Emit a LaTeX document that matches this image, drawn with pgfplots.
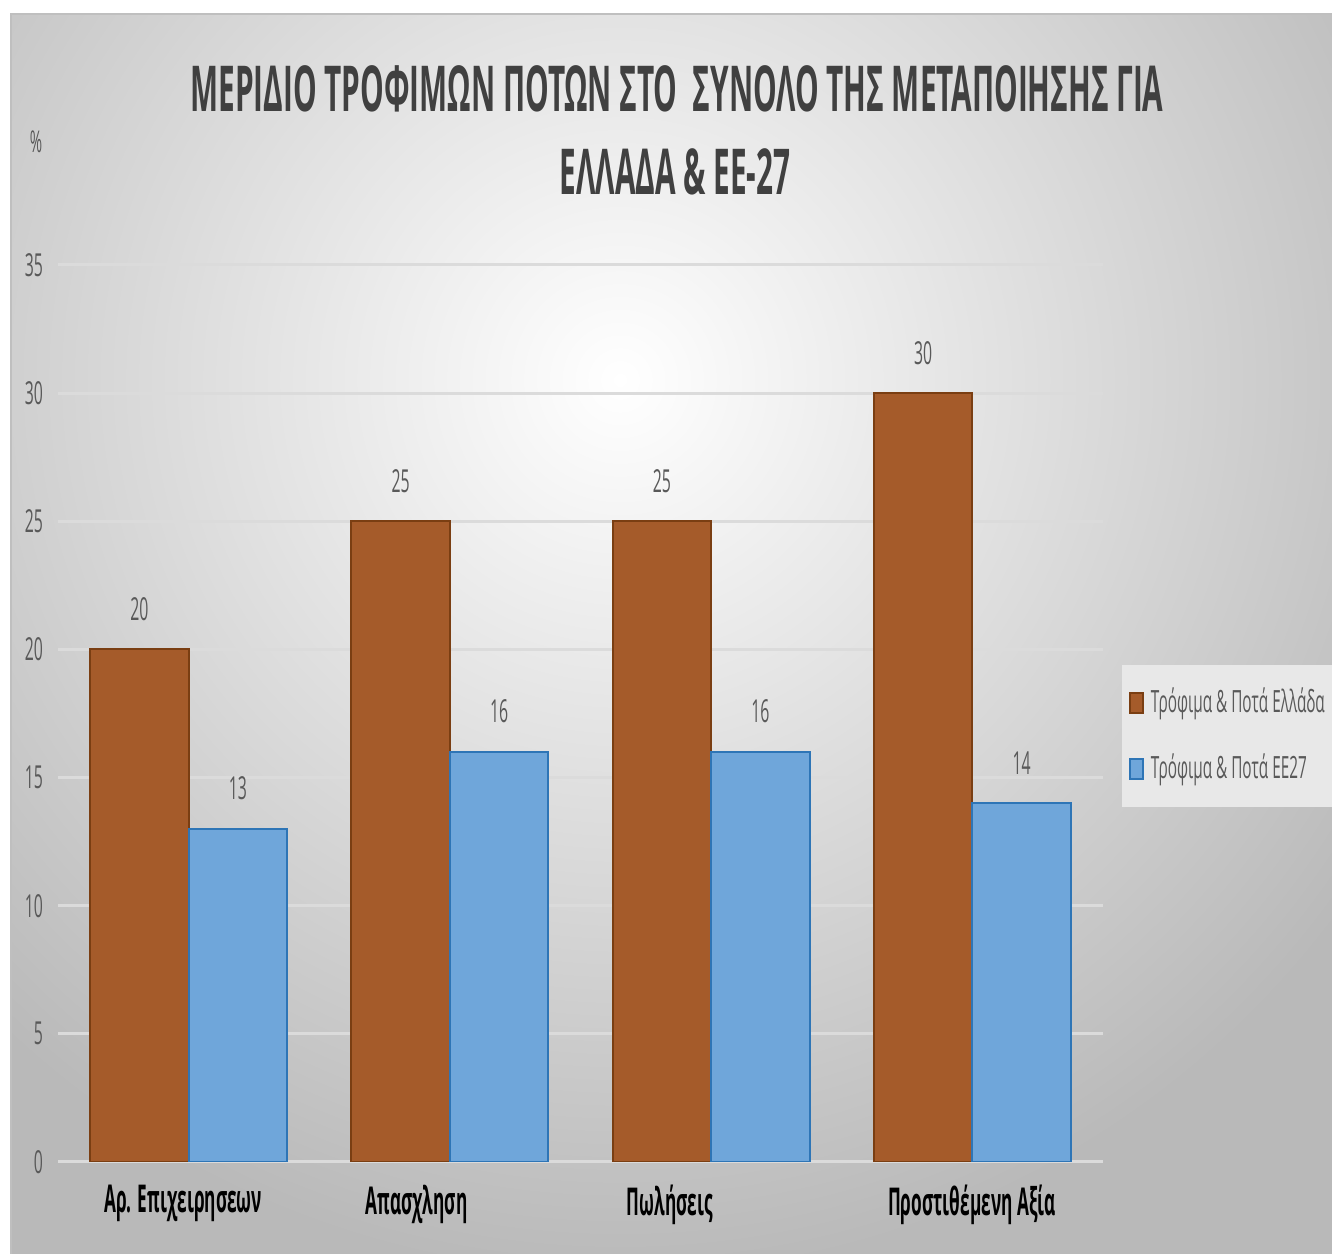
\documentclass[border=0pt]{standalone}
\usepackage{pgfplots}
\pgfplotsset{compat=1.18}
\usepackage{fontspec}
\setmainfont[FakeStretch=0.5]{Open Sans}
\newfontfamily\titlefont[FakeStretch=0.47]{Open Sans}
\newfontfamily\catfont[FakeStretch=0.45]{Open Sans}

\definecolor{grc}{HTML}{A55B2A}
\definecolor{grcdark}{HTML}{7A3E12}
\definecolor{eec}{HTML}{6FA6DA}
\definecolor{eecdark}{HTML}{2E75B6}
\definecolor{txt}{HTML}{595959}
\definecolor{ttl}{HTML}{404040}

\begin{document}
\begin{tikzpicture}
% background, drawn in pixel units of the reference
\begin{scope}[x=0.3pt,y=-0.3pt]
  \fill[white] (0,0) rectangle (1332,1254);
  \fill[black!25] (10,13) rectangle (1332,1254);
  \begin{scope}
    \clip (12,16) rectangle (1332,1254);
    \fill[gray!55] (12,16) rectangle (1332,1254);
    \shade[inner color=white, outer color=gray!55] (620,380) circle (900);
  \end{scope}
  \node[font=\titlefont\bfseries\fontsize{19}{22}\selectfont, text=ttl, anchor=base]
    at (677,112) {ΜΕΡΙΔΙΟ ΤΡΟΦΙΜΩΝ ΠΟΤΩΝ ΣΤΟ\ \ ΣΥΝΟΛΟ ΤΗΣ ΜΕΤΑΠΟΙΗΣΗΣ ΓΙΑ};
  \node[font=\titlefont\bfseries\fontsize{19}{22}\selectfont, text=ttl, anchor=base]
    at (675,195) {ΕΛΛΑΔΑ \& ΕΕ-27};
  \node[font=\fontsize{9}{11}\selectfont, text=txt, anchor=base] at (36,153) {\%};
\end{scope}

\begin{axis}[
  at={(17.4pt,-348.6pt)}, anchor=south west,
  scale only axis, width=313.5pt, height=269.1pt,
  xmin=-0.5, xmax=3.5, ymin=0, ymax=35,
  ybar=0pt, bar width=29.55pt,
  axis line style={draw=none}, tick style={draw=none},
  ytick={0,5,...,35},
  ymajorgrids, grid style={white!86!black, line width=0.9pt},
  /pgf/number format/assume math mode=true,
  yticklabel style={font=\fontsize{9.5}{11}\selectfont, text=txt, xshift=-1pt},
  xtick=data,
  xticklabels={Αρ. Επιχειρησεων, Απασχληση, Πωλήσεις, Προστιθέμενη Αξία},
  xticklabel style={anchor=north west, xshift=-28.8pt, yshift=1pt,
    font=\catfont\bfseries\fontsize{11.5}{13}\selectfont, text=black},
  nodes near coords,
  every node near coord/.append style={font=\fontsize{9.5}{11}\selectfont, text=txt, yshift=5pt},
  legend style={at={(axis description cs:1.018,0.475)}, anchor=west,
    fill=white!91!black, draw=none, font=\fontsize{9.2}{11}\selectfont, text=txt,
    row sep=7pt, inner xsep=2pt, inner ysep=5pt,
    /tikz/every odd column/.style={xshift=-1pt},
    /tikz/every even column/.style={xshift=-3pt}},
  legend cell align=left,
  legend image code/.code={\draw[#1, line width=0.6pt] (2.2pt,-3pt) rectangle (6.1pt,3pt);},
]
\addplot[fill=grc, draw=grcdark, line width=0.6pt] coordinates {(0,20) (1,25) (2,25) (3,30)};
\addplot[fill=eec, draw=eecdark, line width=0.6pt] coordinates {(0,13) (1,16) (2,16) (3,14)};
\legend{Τρόφιμα \& Ποτά Ελλάδα, Τρόφιμα \& Ποτά ΕΕ27}
\end{axis}
\pgfresetboundingbox
\path[use as bounding box] (0pt,0pt) rectangle (399.6pt,-376.2pt);
\end{tikzpicture}
\end{document}
